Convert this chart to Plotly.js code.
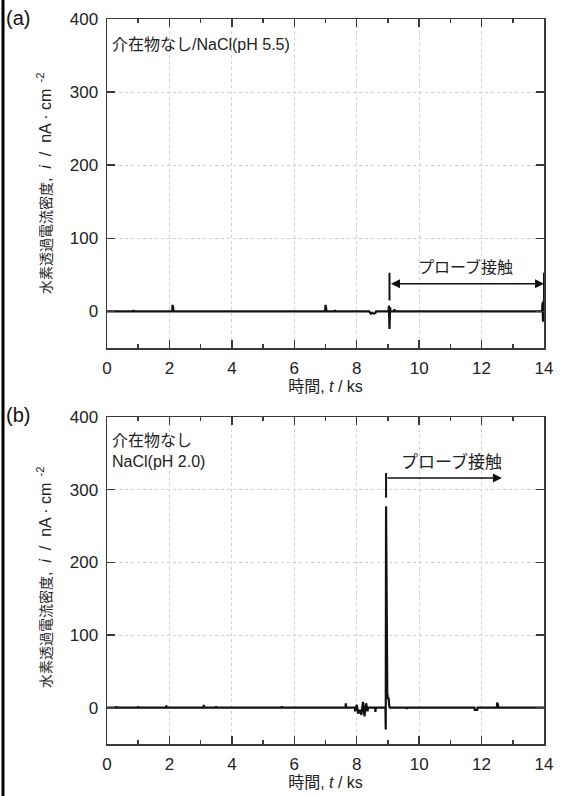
<!DOCTYPE html>
<html><head><meta charset="utf-8">
<script src="https://cdn.plot.ly/plotly-3.0.1.min.js"></script>
<style>html,body{margin:0;padding:0;background:#fff}#chart{width:561px;height:796px}</style>
</head><body><div id="chart"></div>
<script>
// Panel (a): NaCl pH 5.5, time t (ks) and current density i (nA/cm2)
const timeA = [0,0.84,0.85,0.86,2.09,2.1,2.12,2.13,3.49,3.5,3.51,6.99,7.0,7.02,7.03,7.29,7.3,7.31,8.4,8.42,8.45,8.5,8.55,8.6,8.62,9.02,9.03,9.05,9.07,9.08,9.2,9.21,9.22,10.49,10.5,10.51,13.5,13.51,13.52,13.94,13.95,13.97,13.98,13.99,14.0];
const currA = [0,0,2,0,0,9,5,0,0,1,0,0,9,5,0,0,2,0,0,-2,-3,-2,-3,-2,0,0,8,-24,6,0,0,3,0,0,1,0,0,1,0,0,12,-14,15,-10,0];
// Panel (b): NaCl pH 2.0
const timeB = [0,0.29,0.3,0.31,0.99,1.0,1.01,1.89,1.9,1.91,3.09,3.1,3.11,3.49,3.5,3.51,5.59,5.6,5.61,7.64,7.65,7.66,7.94,7.95,8.0,8.05,8.1,8.15,8.2,8.25,8.3,8.35,8.36,8.59,8.6,8.61,8.92,8.93,8.94,8.96,8.98,9.0,9.02,9.04,9.06,9.59,9.6,9.61,11.77,11.78,11.86,11.87,12.49,12.5,12.53,12.54,14];
const currB = [0,0,2,0,0,2,0,0,3,0,0,4,0,0,2,0,0,2,0,0,6,0,0,-5,4,-8,-3,-10,8,-12,6,-5,0,0,-6,0,0,-30,277,100,20,12,14,3,0,0,-2,0,0,-3,-3,0,0,7,3,0,0];

const xTicks = [0,2,4,6,8,10,12,14];
const yTicks = [0,100,200,300,400];
const panelLabels = ['(a)','(b)'];
const conditionA = '介在物なし/NaCl(pH 5.5)';
const conditionB = '介在物なし<br>NaCl(pH 2.0)';
const probeText = 'プローブ接触';
const xTitle = '時間, <i>t</i> / ks';
const yTitle = '<span style="font-size:14px">水素透過電流密度</span>,  <i>i</i>  /  nA · cm<sup>  -2</sup>';

const W = 561, H = 796;
const fontNum = 'Liberation Sans, Arial, sans-serif';
const fontJa = 'Liberation Sans, Noto Sans CJK JP, sans-serif';
const axisCol = '#3a3a3a';

function xax(domain, anchor){
  return {domain: domain, anchor: anchor, range:[0,14], tickvals:xTicks, ticks:'inside', ticklen:8, tickwidth:1.5,
    tickcolor:axisCol, showline:true, linecolor:axisCol, linewidth:1.5, mirror:'ticks', zeroline:false,
    showgrid:true, gridcolor:'#cfcfcf', griddash:'dot', gridwidth:1,
    minor:{dtick:1, tick0:0, ticks:'inside', ticklen:4, tickwidth:1.5, tickcolor:axisCol, showgrid:false},
    tickfont:{family:fontNum, size:17, color:'#222'}, ticklabelstandoff:4,
    title:{text:xTitle, font:{family:fontJa, size:16, color:'#222'}, standoff:3}};
}
function yax(domain, anchor){
  return {domain: domain, anchor: anchor, range:[-50,400], tickvals:yTicks, ticks:'inside', ticklen:8, tickwidth:1.5,
    tickcolor:axisCol, showline:true, linecolor:axisCol, linewidth:1.5, mirror:'ticks', zeroline:false,
    showgrid:true, gridcolor:'#cfcfcf', griddash:'dot', gridwidth:1,
    tickfont:{family:fontNum, size:17, color:'#222'}, ticklabelstandoff:4};
}

const xd = [107/W, 544/W];
const ydA = [1-348/H, 1-19/H];
const ydB = [1-744/H, 1-417/H];

const traces = [
  {x:timeA, y:currA, xaxis:'x', yaxis:'y', mode:'lines', line:{color:'#111', width:2.2}, hoverinfo:'skip'},
  {x:timeB, y:currB, xaxis:'x2', yaxis:'y2', mode:'lines', line:{color:'#111', width:2.2}, hoverinfo:'skip'}
];

const txt = (s,c) => ({family:fontJa, size:s, color:c||'#222'});
const layout = {
  width:W, height:H, margin:{l:0,r:0,t:0,b:0}, showlegend:false,
  paper_bgcolor:'#fff', plot_bgcolor:'#fff',
  xaxis: xax(xd,'y'), yaxis: yax(ydA,'x'),
  xaxis2: xax(xd,'y2'), yaxis2: yax(ydB,'x2'),
  shapes:[
    {type:'line', xref:'paper', yref:'paper', x0:3/W, x1:3/W, y0:0, y1:1, line:{color:'#000', width:3}},
    {type:'line', xref:'x', yref:'y', x0:9.05, x1:9.05, y0:15, y1:53, line:{color:'#111', width:2}},
    {type:'line', xref:'x', yref:'y', x0:14, x1:14, y0:15, y1:53, line:{color:'#111', width:2}},
    {type:'line', xref:'x2', yref:'y2', x0:8.94, x1:8.94, y0:289, y1:323, line:{color:'#111', width:2}}
  ],
  annotations:[
    {xref:'paper', yref:'paper', x:4/W, y:1-18/H, text:panelLabels[0], showarrow:false, xanchor:'left', yanchor:'middle', font:{family:fontNum,size:20,color:'#111'}},
    {xref:'paper', yref:'paper', x:4/W, y:1-415/H, text:panelLabels[1], showarrow:false, xanchor:'left', yanchor:'middle', font:{family:fontNum,size:20,color:'#111'}},
    {xref:'paper', yref:'paper', x:110/W, y:1-45/H, text:conditionA, showarrow:false, xanchor:'left', yanchor:'middle', font:txt(16)},
    {xref:'paper', yref:'paper', x:110/W, y:1-451/H, text:conditionB, showarrow:false, xanchor:'left', yanchor:'middle', align:'left', font:txt(16)},
    {xref:'paper', yref:'paper', x:44/W, y:1-183/H, text:yTitle, textangle:-90, showarrow:false, xanchor:'center', yanchor:'middle', font:txt(16)},
    {xref:'paper', yref:'paper', x:44/W, y:1-577/H, text:yTitle, textangle:-90, showarrow:false, xanchor:'center', yanchor:'middle', font:txt(16)},
    {xref:'x', yref:'y', x:11.5, y:61, text:probeText, showarrow:false, font:txt(16)},
    {xref:'x', yref:'y', x:14, y:38, ax:9.05, ay:38, axref:'x', ayref:'y', text:'', showarrow:true, arrowhead:2, arrowside:'end+start', arrowsize:1.2, arrowwidth:1.5, arrowcolor:'#111'},
    {xref:'x2', yref:'y2', x:11.05, y:338, text:probeText, showarrow:false, font:txt(17)},
    {xref:'x2', yref:'y2', x:12.65, y:316, ax:8.94, ay:316, axref:'x2', ayref:'y2', text:'', showarrow:true, arrowhead:2, arrowsize:1.2, arrowwidth:1.5, arrowcolor:'#111'}
  ]
};
Plotly.newPlot('chart', traces, layout, {staticPlot:true, displayModeBar:false});
</script></body></html>
